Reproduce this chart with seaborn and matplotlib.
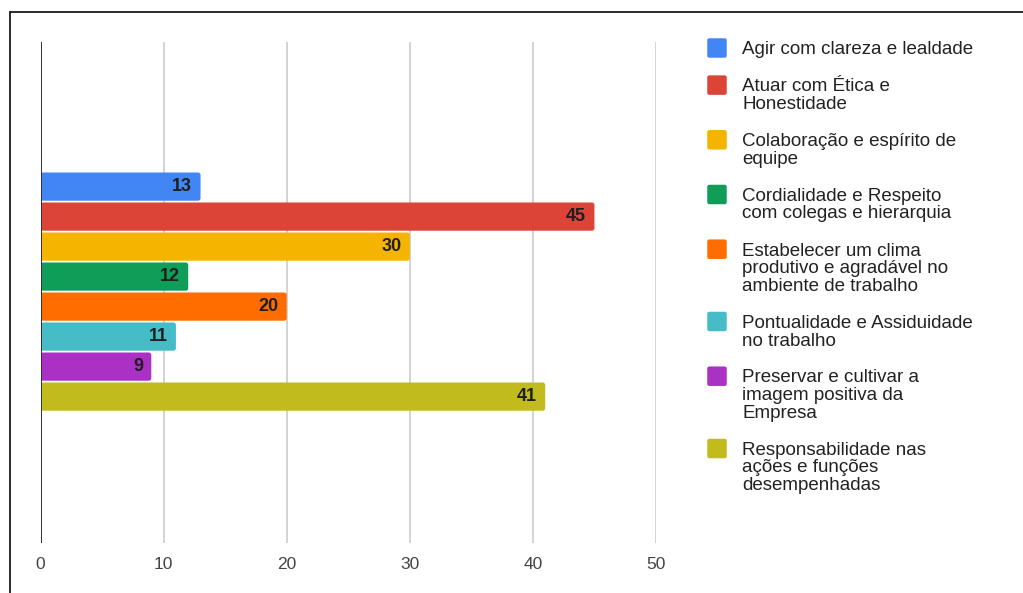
import matplotlib
matplotlib.use("Agg")
import matplotlib.pyplot as plt
from matplotlib.patches import FancyBboxPatch
from matplotlib.lines import Line2D
import seaborn as sns
import pandas as pd

# Survey answers: which conduct is most valued
categories = [
    "Agir com clareza e lealdade",
    "Atuar com Ética e\nHonestidade",
    "Colaboração e espírito de\nequipe",
    "Cordialidade e Respeito\ncom colegas e hierarquia",
    "Estabelecer um clima\nprodutivo e agradável no\nambiente de trabalho",
    "Pontualidade e Assiduidade\nno trabalho",
    "Preservar e cultivar a\nimagem positiva da\nEmpresa",
    "Responsabilidade nas\nações e funções\ndesempenhadas",
]
values = [13, 45, 30, 12, 20, 11, 9, 41]
colors = ["#4285F4", "#DB4437", "#F4B400", "#0F9D58",
          "#FF6D01", "#46BDC6", "#AB30C4", "#C2BB1E"]
x_ticks = [0, 10, 20, 30, 40, 50]

df = pd.DataFrame({"categoria": categories, "valor": values})

sns.set_theme(style="white")
plt.rcParams["font.family"] = ["Liberation Sans", "DejaVu Sans"]

W, H = 1023, 593
fig = plt.figure(figsize=(W / 100, H / 100), dpi=100)
fig.patch.set_facecolor("white")

def fx(px):
    return px / W

def fy(py):
    return 1 - py / H

ax = fig.add_axes([fx(40.5), fy(543), (656 - 40.5) / W, (543 - 42) / H])

sns.barplot(data=df, x="valor", y="categoria", hue="categoria",
            palette=colors, dodge=False, legend=False, width=0.94,
            orient="h", ax=ax, saturation=1)

ax.set_xlim(0, 50)
ax.set_ylim(11.88, -4.82)
ax.set_xticks(x_ticks)
ax.set_xticklabels([str(t) for t in x_ticks])
ax.set_yticks([])
ax.set_xlabel("")
ax.set_ylabel("")
for s in ax.spines.values():
    s.set_visible(False)
ax.xaxis.grid(True, color="#cccccc", lw=1.2)
ax.set_axisbelow(True)
ax.tick_params(axis="x", length=0, pad=10, labelsize=12.5, labelcolor="#444444")
ax.axvline(0, color="#333333", lw=1.4, zorder=4)

# Slightly rounded bar ends
px_x = (656 - 40.5) / 50.0
px_y = 30.0
r = 2.5
for cont in ax.containers:
    for bar in cont.patches:
        x0, y0 = bar.get_x(), bar.get_y()
        w, h = bar.get_width(), bar.get_height()
        rb = FancyBboxPatch((x0, y0), w, h,
                            boxstyle=f"round,pad=0,rounding_size={r / px_x}",
                            mutation_aspect=(r / px_y) / (r / px_x),
                            facecolor=bar.get_facecolor(), edgecolor="none",
                            zorder=3)
        ax.add_patch(rb)
        bar.set_visible(False)
    texts = ax.bar_label(cont, fmt="%d", padding=-6, fontsize=13,
                         fontweight="bold", color="#1f1f1f")
    for t in texts:
        t.set_ha("right")
        t.set_va("center")
        t.set_zorder(5)

# Legend on the right: swatch aligned with the first line of each label
line_h = 17.7
y_center = 48.0
for label, col in zip(categories, colors):
    lines = label.split("\n")
    sq = 19.5
    fig.add_artist(FancyBboxPatch((fx(717 - sq / 2), fy(y_center + sq / 2)),
                                  sq / W, sq / H,
                                  boxstyle="round,pad=0,rounding_size=0.002",
                                  mutation_aspect=W / H,
                                  transform=fig.transFigure,
                                  facecolor=col, edgecolor="none"))
    for k, line in enumerate(lines):
        fig.text(fx(742), fy(y_center + 6.3 + k * line_h), line,
                 fontsize=13.5, color="#222222", ha="left", va="baseline")
    y_center += len(lines) * 17.6 + 19.5

# Outer frame lines
fig.add_artist(Line2D([fx(10), 1.0], [fy(12), fy(12)], color="#1a1a1a",
                      lw=1.3, transform=fig.transFigure))
fig.add_artist(Line2D([fx(10), fx(10)], [fy(12), 0.0], color="#1a1a1a",
                      lw=1.3, transform=fig.transFigure))

fig.savefig("out.png", dpi=100, facecolor="white")
